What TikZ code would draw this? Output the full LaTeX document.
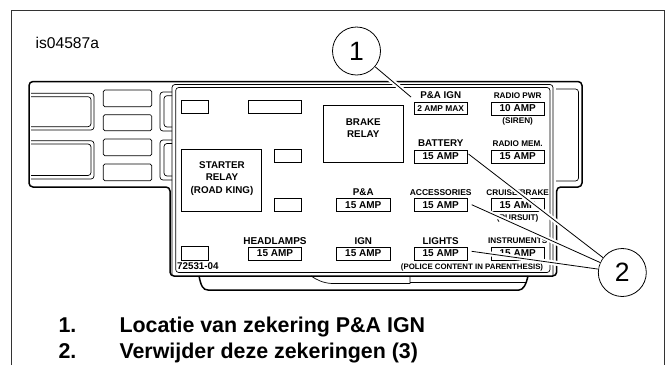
\documentclass[tikz,border=0pt]{standalone}
\usepackage{fontspec}
\setmainfont{Liberation Sans}
\newcommand{\fsize}[1]{\fontsize{#1}{#1}\selectfont}
\begin{document}
\begin{tikzpicture}[x=1pt, y=-1pt, node distance=12.8pt,
		box/.style = {draw, line width=0.7pt, inner sep=0pt, minimum width=#1, minimum height=13pt},
		box/.default = 53.3pt,
		fuse/.style = {box, font=\fsize{10}\bfseries},
		small/.style = {inner sep=0pt, font=\fsize{8.2}\bfseries},
		big/.style = {inner sep=0pt, align=center, font=\fontsize{9.8}{12.2}\selectfont\bfseries},
		callout/.style = {circle, draw, line width=0.8pt, fill=white, minimum size=48pt, inner sep=0pt, font=\fsize{26.5}},
		leader/.style = {line width=0.8pt, preaction={draw=white, line width=5pt, shorten >=3pt}},
		hull/.style = {line width=1.5pt, rounded corners=4pt},
		liner/.style = {line width=0.7pt, rounded corners=3pt},
		listing/.style = {inner sep=0pt, anchor=base west, font=\fsize{21.4}\bfseries}]
			\useasboundingbox (0,0) rectangle (670,365);
			\draw[line width=1pt, black!80] (11.5,365) -- (11.5,10) -- (664,10) -- (664,365);
			\node[inner sep=0pt, anchor=base west, font=\fsize{15.6}] (tag) at (35.5,48) {is04587a};
			% housing
			\draw[hull] (29,81.5) -- (582,81.5) -- (582,187) -- (556.7,187) -- (556.7,276) -- (170,276) -- (170,187) -- (29,187) -- cycle;
			\draw[liner] (172,276) -- (172,84.5) -- (553,84.5) -- (553,276);
			\draw[liner] (175.7,272.5) rectangle (550,87.5);
			\draw[liner] (556,89) -- (578.5,89) -- (578.5,181) -- (556,181);
			% left side compartments
			\draw[liner] (31,93.3) -- (94,93.3) -- (94,130) -- (31,130);
			\draw[liner] (31,96.7) -- (91,96.7) -- (91,126.7) -- (31,126.7);
			\draw[liner] (31,140.7) -- (94,140.7) -- (94,179) -- (31,179);
			\draw[liner] (31,144) -- (91,144) -- (91,175.5) -- (31,175.5);
			\draw[liner, rounded corners=1.5pt] (103.3,90) rectangle (151.7,106.7);
			\draw[liner, rounded corners=1.5pt] (103.3,114.7) rectangle (151.7,130.7);
			\draw[liner, rounded corners=1.5pt] (103.3,139) rectangle (151.7,155.7);
			\draw[liner, rounded corners=1.5pt] (103.3,164) rectangle (151.7,180.7);
			\draw[liner] (172,92) -- (160,92) -- (160,131) -- (172,131);
			\draw[liner] (172,95.7) -- (164,95.7) -- (164,127) -- (172,127);
			\draw[liner] (172,140) -- (160,140) -- (160,180) -- (172,180);
			\draw[liner] (172,143.5) -- (164,143.5) -- (164,176) -- (172,176);
			% tray below the panel
			\draw[hull] (199,276) .. controls (201,286) and (203,290) .. (212,290) -- (515,290) .. controls (523,290) and (526,285) .. (528,276);
			\draw[line width=0.7pt] (311,276) .. controls (317,280) and (323,283) .. (332,283.5) -- (410,283.5) -- (410,277);
			\draw[line width=0.7pt] (410,282.7) -- (526,282.7);
			% blank cavities
			\node[box=26.6pt] (cavitya) at (195,107.3) {};
			\node[box] (cavityb) at (275,107.3) {};
			\node[box=27.4pt] (cavityc) at (288,156) {};
			\node[box=27.4pt] (cavityd) at (288,205) {};
			\node[box=26.6pt, minimum height=14pt] (cavitye) at (195,253.3) {};
			% relays
			\node[box=80pt, minimum height=57.7pt] (brakerelay) at (363.3,133.8) {};
			\node[big] (braketext) at (363.3,128) {BRAKE\\RELAY};
			\node[box=80pt, minimum height=62.4pt] (starterrelay) at (221.7,180.5) {};
			\node[big] (startertext) at (222,178.4) {STARTER\\RELAY\\(ROAD KING)};
			% fuses
			\node[fuse, font=\fsize{8.4}\bfseries, minimum height=12pt] (paign) at (440.7,108.3) {2 AMP MAX};
			\node[big] (paigntext) [above of=paign] {P\&A IGN};
			\node[fuse] (radiopwr) at (517.7,108.5) {10 AMP};
			\node[small] (radiopwrtext) [above of=radiopwr] {RADIO PWR};
			\node[small] (sirentext) [below of=radiopwr] {(SIREN)};
			\node[fuse] (battery) at (440.7,156.4) {15 AMP};
			\node[big] (batterytext) [above of=battery] {BATTERY};
			\node[fuse] (radiomem) at (517.7,156.4) {15 AMP};
			\node[small] (radiomemtext) [above of=radiomem] {RADIO MEM.};
			\node[fuse] (pa) at (363.3,205.3) {15 AMP};
			\node[big] (patext) [above of=pa] {P\&A};
			\node[fuse] (accessories) at (440.7,205.3) {15 AMP};
			\node[small, font=\fsize{8.5}\bfseries] (accessoriestext) [above of=accessories] {ACCESSORIES};
			\node[fuse] (cruise) at (517.7,205.3) {15 AMP};
			\node[small] (cruisetext) [above of=cruise] {CRUISE/BRAKE};
			\node[small] (pursuittext) [below of=cruise] {(PURSUIT)};
			\node[fuse] (headlamps) at (275,253.5) {15 AMP};
			\node[big, font=\fsize{10}\bfseries] (headlampstext) [above of=headlamps] {HEADLAMPS};
			\node[fuse] (ign) at (363.3,253.5) {15 AMP};
			\node[big] (igntext) [above of=ign] {IGN};
			\node[fuse] (lights) at (440.7,253.5) {15 AMP};
			\node[big] (lightstext) [above of=lights] {LIGHTS};
			\node[fuse] (instruments) at (517.7,253.5) {15 AMP};
			\node[small] (instrumentstext) [above of=instruments] {INSTRUMENTS};
			\node[small, font=\fsize{7.86}\bfseries] (policetext) at (472,267) {(POLICE CONTENT IN PARENTHESIS)};
			\node[small, font=\fsize{9.8}\bfseries, anchor=base west] (partnumber) at (177,269.5) {72531-04};
			% callouts
			\coordinate (paigntip) at (411,97);
			\coordinate (batterytip) at (468.5,154);
			\coordinate (accessoriestip) at (471.7,204.7);
			\coordinate (lightstip) at (471.7,251.3);
			\node[callout] (one) at (356.5,51) {1};
			\node[callout] (two) at (622.3,272.5) {2};
			\path
				(one) edge[leader] (paigntip)
				(two) edge[leader] (batterytip)
				(two) edge[leader] (accessoriestip)
				(two) edge[leader] (lightstip);
			% list
			\node[listing] (numone) at (58.3,332) {1.};
			\node[listing] (textone) at (119.3,332) {Locatie van zekering P\&A IGN};
			\node[listing] (numtwo) at (58.3,358) {2.};
			\node[listing] (texttwo) at (119.3,358) {Verwijder deze zekeringen (3)};
		\end{tikzpicture}
\end{document}
